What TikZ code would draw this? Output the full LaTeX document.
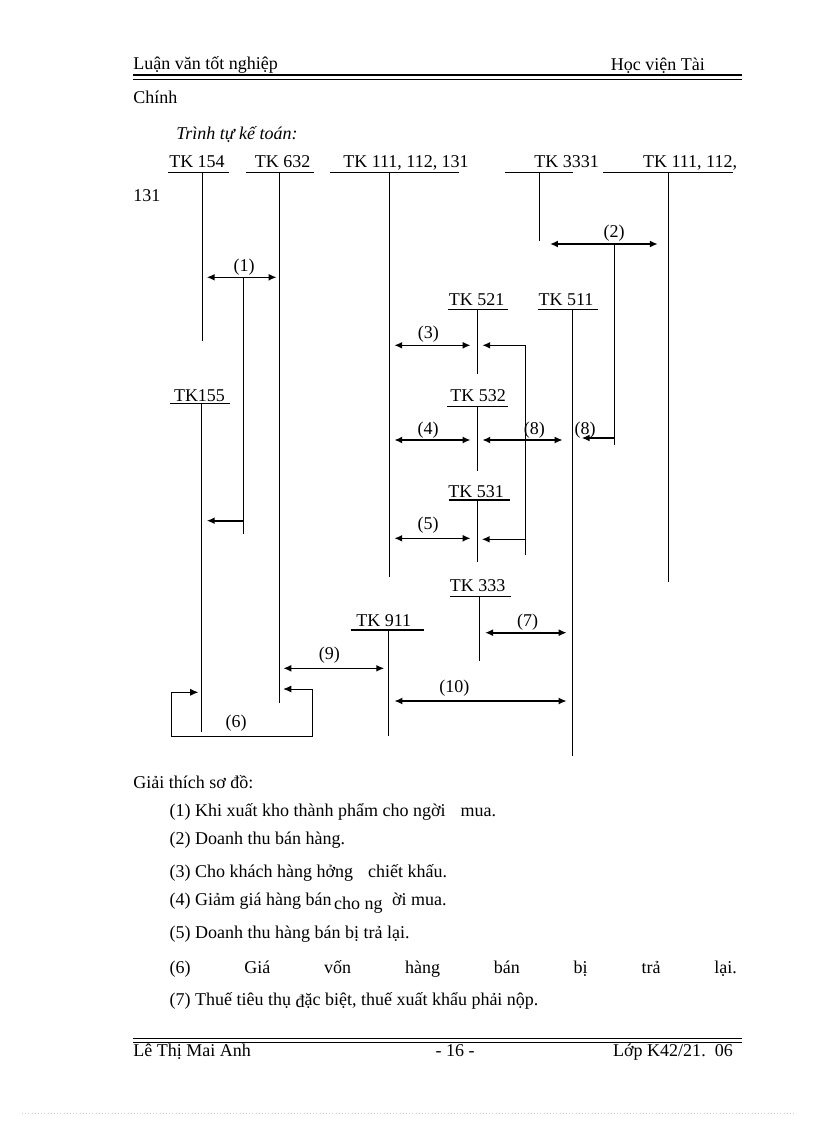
\documentclass[tikz,border=0pt]{standalone}
\usepackage{fontspec}
\setmainfont{Liberation Serif}
\usetikzlibrary{arrows.meta}

\begin{document}
\begin{tikzpicture}[x=0.75pt,y=-0.75pt,>={Latex[length=6pt,width=5.2pt]},
                    font=\fontsize{13.5}{16}\selectfont]
  \tikzstyle{txt}=[inner sep=0pt,anchor=base west]
  \tikzstyle{acct}=[inner sep=0pt,anchor=base]
  \tikzstyle{lbl}=[inner sep=0pt,anchor=base]
  \tikzstyle{uline}=[line width=0.8pt]
  \tikzstyle{stem}=[line width=0.6pt]
  \tikzstyle{dbl}=[<->,line width=1.2pt]
  \tikzstyle{one}=[->,line width=1.2pt]

  \useasboundingbox (0,0) rectangle (816,1123);

  % page head
  \node[txt] (head1) at (133,70) {Luận văn tốt nghiệp};
  \node[txt,anchor=base east] (head2) at (705,71) {Học viện Tài};
  \draw[line width=1.4pt] (133,75) -- (742,75);
  \draw[line width=0.7pt] (133,79.5) -- (742,79.5);
  \node[txt] (chinh) at (133,104) {Chính};
  \node[txt] (trinhtu) at (176,140) {\itshape Trình tự kế toán:};
  \node[txt] (wrap) at (133,201.7) {131};

  % accounts
  \node[acct] (tk154) at (197,168) {TK 154};
  \node[acct] (tk632) at (282.5,168) {TK 632};
  \node[acct] (tk111) at (406,168) {TK 111, 112, 131};
  \node[acct] (tk3331) at (566.5,168) {TK 3331};
  \node[acct] (tk111b) at (690,168) {TK 111, 112,};
  \node[acct] (tk521) at (476.7,305.5) {TK 521};
  \node[acct] (tk511) at (566,305.5) {TK 511};
  \node[acct] (tk155) at (199.5,401.5) {TK155};
  \node[acct] (tk532) at (478,401.5) {TK 532};
  \node[acct] (tk531) at (476,497) {TK 531};
  \node[acct] (tk333) at (477.5,591.5) {TK 333};
  \node[acct] (tk911) at (383.7,626.5) {TK 911};

  \draw[uline] (168,172.7) -- (229,172.7);
  \draw[uline] (246,172.7) -- (314,172.7);
  \draw[uline] (330,172.7) -- (459.3,172.7);
  \draw[uline] (505,172.7) -- (573.3,172.7);
  \draw[uline] (603.3,172.7) -- (733.3,172.7);
  \draw[uline] (447.7,309.3) -- (507.7,309.3);
  \draw[uline] (537.7,309.3) -- (598.3,309.3);
  \draw[uline] (170,403.3) -- (230,403.3);
  \draw[uline] (447,406.7) -- (508,406.7);
  \draw[uline] (449,500) -- (510,500);
  \draw[uline] (450,596.7) -- (510.7,596.7);
  \draw[uline] (351,630) -- (424,630);

  \coordinate (s154) at (202.3,172.7);
  \coordinate (s632) at (279.3,172.7);
  \coordinate (s111) at (389.3,172.7);
  \coordinate (s3331) at (539.3,172.7);
  \coordinate (s111b) at (668.5,172.7);
  \coordinate (s521) at (477.3,309.3);
  \coordinate (s511) at (572.7,309.3);
  \coordinate (s155) at (201.7,403.3);
  \coordinate (s532) at (477.3,406.7);
  \coordinate (s531) at (477.3,500);
  \coordinate (s333) at (479.3,596.7);
  \coordinate (s911) at (388.3,630);

  \draw[stem] (s154) -- (s154 |- 0,340.7);
  \draw[stem] (s632) -- (s632 |- 0,702.7);
  \draw[stem] (s111) -- (s111 |- 0,577.3);
  \draw[stem] (s3331) -- (s3331 |- 0,240.7);
  \draw[stem] (s111b) -- (s111b |- 0,581.7);
  \draw[stem] (s521) -- (s521 |- 0,374);
  \draw[stem] (s511) -- (s511 |- 0,756);
  \draw[stem] (s155) -- (s155 |- 0,731.7);
  \draw[stem] (s532) -- (s532 |- 0,470.7);
  \draw[stem] (s531) -- (s531 |- 0,561.7);
  \draw[stem] (s333) -- (s333 |- 0,661);
  \draw[stem] (s911) -- (s911 |- 0,735.7);

  % entries
  \draw[dbl,shorten <=3.3pt,shorten >=2pt] (s154 |- 0,277.3) -- (s632 |- 0,277.3);
  \coordinate (b1) at (243.3,277.3);
  \draw[stem] (b1) -- (b1 |- 0,534);
  \draw[one,shorten >=3.3pt] (b1 |- 0,520.7) -- (s154 |- 0,520.7);

  \draw[dbl,shorten <=8pt,shorten >=8pt] (s3331 |- 0,244) -- (s111b |- 0,244);
  \coordinate (b2) at (614,244);
  \draw[stem] (b2) -- (b2 |- 0,445);
  \draw[one,shorten >=6.7pt] (b2 |- 0,438) -- (s511 |- 0,438);

  \draw[dbl,shorten <=3.7pt,shorten >=5pt] (s111 |- 0,345.3) -- (s521 |- 0,345.3);
  \draw[dbl,shorten <=3.7pt,shorten >=5pt] (s111 |- 0,440) -- (s532 |- 0,440);
  \draw[dbl,shorten <=3.7pt,shorten >=5pt] (s111 |- 0,538.3) -- (s531 |- 0,538.3);

  \coordinate (b8) at (525.7,345.3);
  \draw[stem] (b8) -- (b8 |- 0,555);
  \draw[one,shorten >=3.7pt] (b8) -- (s521 |- b8);
  \draw[one,shorten >=3.3pt] (b8 |- 0,539.3) -- (s531 |- 0,539.3);
  \draw[dbl,shorten <=3.7pt,shorten >=7.5pt] (s532 |- 0,440) -- (s511 |- 0,440);

  \draw[dbl,shorten <=4.3pt,shorten >=4.5pt] (s333 |- 0,632.7) -- (s511 |- 0,632.7);
  \draw[dbl,shorten <=3pt,shorten >=3pt] (s632 |- 0,668.3) -- (s911 |- 0,668.3);
  \draw[dbl,shorten <=4.5pt,shorten >=4.5pt] (s911 |- 0,701) -- (s511 |- 0,701);

  \draw[<->,stem,shorten <=3pt,shorten >=2.6pt] (s632 |- 0,689) -- (312.3,689)
    -- (312.3,736) -- (171,736) -- (171,692.3) -- (s155 |- 0,692.3);

  \node[lbl] (l1) at (244,271.2) {(1)};
  \node[lbl] (l2) at (614,237.2) {(2)};
  \node[lbl] (l3) at (428.3,338.8) {(3)};
  \node[lbl] (l4) at (428,434.5) {(4)};
  \node[lbl] (l8a) at (534.3,434.5) {(8)};
  \node[lbl] (l8b) at (585,434.5) {(8)};
  \node[lbl] (l5) at (428,529.5) {(5)};
  \node[lbl] (l7) at (527.7,626.2) {(7)};
  \node[lbl] (l9) at (329.3,659.5) {(9)};
  \node[lbl] (l10) at (454.3,692.8) {(10)};
  \node[lbl] (l6) at (236,727.2) {(6)};

  % notes
  \node[txt] (giai) at (133,788.3) {Giải thích sơ đồ:};
  \node[txt] (n1) at (169.3,816.7) {(1) Khi xuất kho thành phẩm cho ngời\hspace{8pt} mua.};
  \node[txt] (n2) at (169.3,844) {(2) Doanh thu bán hàng.};
  \node[txt] (n3) at (169.3,877.3) {(3) Cho khách hàng hởng\hspace{8pt} chiết khấu.};
  \node[txt] (n4) at (169.3,905) {(4) Giảm giá hàng bán\hspace{2pt}\raisebox{-3pt}{cho ng}\hspace{7pt}ời mua.};
  \node[txt] (n5) at (169.3,938.3) {(5) Doanh thu hàng bán bị trả lại.};
  \node[txt] (n6) at (169.3,973.3) {\makebox[425.5pt][s]{(6) Giá vốn hàng bán bị trả lại.}};
  \node[txt] (n7) at (169.3,1005) {(7) Thuế tiêu thụ \raisebox{-2pt}{đ}ặc biệt, thuế xuất khẩu phải nộp.};

  % page foot
  \draw[line width=1pt] (133,1038.3) -- (742,1038.3);
  \draw[line width=0.7pt] (133,1042) -- (742,1042);
  \node[txt] (foot1) at (133,1056) {Lê Thị Mai Anh};
  \node[acct] (foot2) at (455,1056) {- 16 -};
  \node[txt,anchor=base east] (foot3) at (733,1056) {Lớp K42/21.\ \ 06};
  \draw[gray!40,dotted] (22,1113) -- (796,1113);
\end{tikzpicture}
\end{document}
